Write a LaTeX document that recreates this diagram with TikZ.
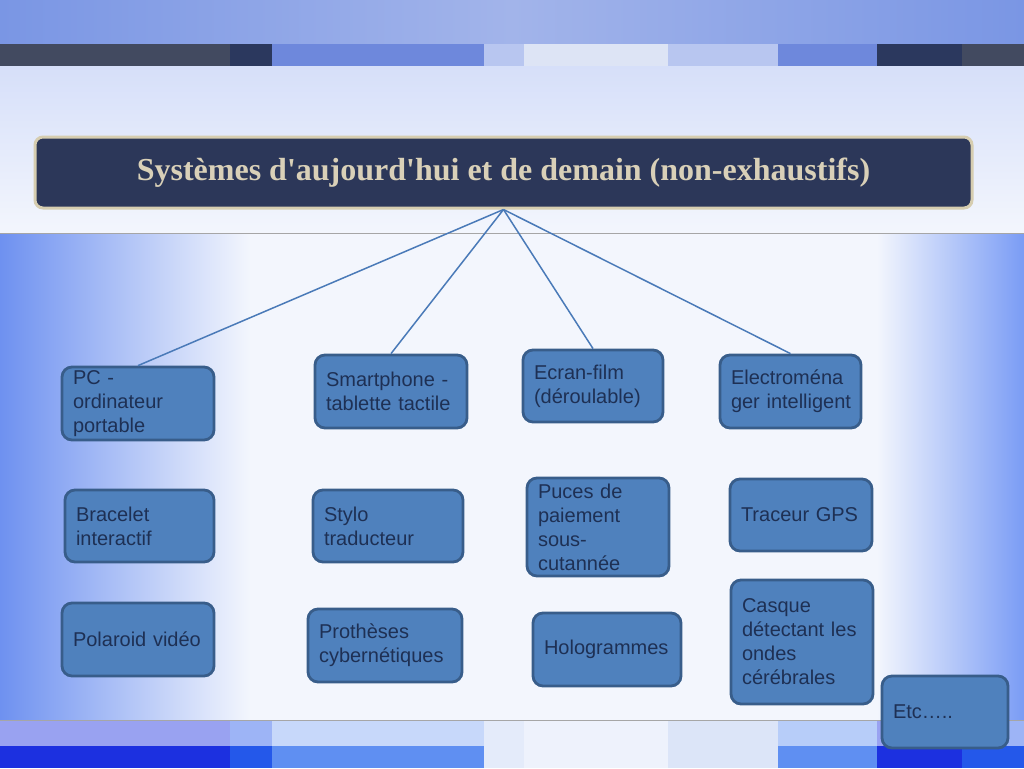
\documentclass[tikz,border=0pt]{standalone}
\usepackage{fontspec}
\setsansfont{Liberation Sans}
\newfontfamily\titlefont{Liberation Serif}
\usepackage{tikz}
\usetikzlibrary{positioning}
\definecolor{barnavy}{RGB}{43,56,94}
\definecolor{bargray}{RGB}{66,74,96}
\definecolor{barblue}{RGB}{110,136,220}
\definecolor{barlight}{RGB}{184,198,240}
\definecolor{barwhite}{RGB}{221,228,245}
\definecolor{bgtop}{RGB}{162,180,234}
\definecolor{bgedge}{RGB}{122,150,228}
\definecolor{bgmid}{RGB}{243,246,253}
\definecolor{bgpale}{RGB}{214,223,249}
\definecolor{bgside}{RGB}{110,145,240}
\definecolor{bgright}{RGB}{122,156,245}
\definecolor{deepblue}{RGB}{28,48,224}
\definecolor{midblue}{RGB}{36,88,234}
\definecolor{softblue}{RGB}{95,143,242}
\definecolor{paleblue}{RGB}{228,235,250}
\definecolor{palewhite}{RGB}{238,242,252}
\definecolor{palemid}{RGB}{220,229,248}
\definecolor{titlefill}{RGB}{44,55,89}
\definecolor{titleline}{RGB}{214,205,176}
\definecolor{titletext}{RGB}{217,208,184}
\definecolor{itemfill}{RGB}{79,129,189}
\definecolor{itemline}{RGB}{56,93,138}
\definecolor{itemtext}{RGB}{30,48,84}
\definecolor{linkblue}{RGB}{74,122,184}
\tikzset{
  titlebox/.style={rounded corners=4pt, draw=titleline, line width=1.5pt, fill=titlefill, text=titletext, font=\titlefont\bfseries\fontsize{16}{19}\selectfont},
  item/.style={rounded corners=5pt, draw=itemline, line width=1.4pt, fill=itemfill, text=itemtext, align=left, inner xsep=5.5pt, inner ysep=0pt, font=\sffamily\fontsize{10}{12}\selectfont},
  link/.style={draw=linkblue, line width=0.75pt},
}
\begin{document}
\begin{tikzpicture}[x=0.5pt, y=-0.5pt]
  \useasboundingbox (0,0) rectangle (1024,768);
  % background
  \fill[bgmid] (0,0) rectangle (1024,768);
  \shade[left color=bgedge, right color=bgedge, middle color=bgtop] (0,0) rectangle (1024,44);
  \shade[top color=bgpale, bottom color=bgmid] (0,66) rectangle (1024,233);
  \shade[left color=bgside, right color=bgmid] (0,233) rectangle (250,720);
  \shade[left color=bgmid, right color=bgright] (877,233) rectangle (1024,720);
  % top bar
  \fill[bargray]  (0,44)   rectangle (230,66);
  \fill[barnavy]  (230,44) rectangle (272,66);
  \fill[barblue]  (272,44) rectangle (484,66);
  \fill[barlight] (484,44) rectangle (524,66);
  \fill[barwhite] (524,44) rectangle (668,66);
  \fill[barlight] (668,44) rectangle (778,66);
  \fill[barblue]  (778,44) rectangle (877,66);
  \fill[barnavy]  (877,44) rectangle (962,66);
  \fill[bargray]  (962,44) rectangle (1024,66);
  % bottom bars
  \fill[deepblue!45!white]  (0,720)   rectangle (230,746);
  \fill[midblue!45!white]   (230,720) rectangle (272,746);
  \fill[softblue!35!white]  (272,720) rectangle (484,746);
  \fill[paleblue]           (484,720) rectangle (524,746);
  \fill[palewhite]          (524,720) rectangle (668,746);
  \fill[palemid]            (668,720) rectangle (778,746);
  \fill[softblue!45!white]  (778,720) rectangle (877,746);
  \fill[deepblue!45!white]  (877,720) rectangle (962,746);
  \fill[midblue!45!white]   (962,720) rectangle (1024,746);
  \fill[deepblue]  (0,746)   rectangle (230,768);
  \fill[midblue]   (230,746) rectangle (272,768);
  \fill[softblue]  (272,746) rectangle (484,768);
  \fill[paleblue]  (484,746) rectangle (524,768);
  \fill[palewhite] (524,746) rectangle (668,768);
  \fill[palemid]   (668,746) rectangle (778,768);
  \fill[softblue]  (778,746) rectangle (877,768);
  \fill[deepblue]  (877,746) rectangle (962,768);
  \fill[midblue]   (962,746) rectangle (1024,768);
  \draw[gray!70, line width=0.4pt] (0,233) -- (1024,233);
  \draw[gray!70, line width=0.4pt] (0,720) -- (1024,720);

  % title
  \node[titlebox, minimum width=468.5pt, minimum height=35.5pt] (title) at (503.5,172.5) {Systèmes d'aujourd'hui et de demain (non-exhaustifs)};

  % first row
  \node[item, text width=65pt, minimum height=36.5pt] (pc) at (138,403.5) {PC -\\ordinateur\\portable};
  \node[item, text width=65pt, minimum height=36.5pt] (phone) at (391,391.5) {Smartphone -\\tablette tactile};
  \node[item, text width=59pt, minimum height=36pt] (film) at (593,386) {Ecran-film\\(déroulable)};
  \node[item, text width=59.5pt, minimum height=36.5pt] (menager) at (790.5,391.5) {Electroména\\\mbox{ger intelligent}};
  % second row
  \node[item, text width=63.5pt, minimum height=36pt] (bracelet) at (139.5,526) {Bracelet\\interactif};
  \node[item, text width=64pt, minimum height=36pt] (stylo) at (388,526) {Stylo\\traducteur};
  \node[item, text width=60pt, minimum height=49pt] (puces) at (598,527) {Puces de\\paiement\\sous-\\cutannée};
  \node[item, text width=60pt, minimum height=36pt] (gps) at (801,515) {Traceur GPS};
  % third row
  \node[item, text width=65pt, minimum height=36.5pt] (polaroid) at (138,639.5) {Polaroid vidéo};
  \node[item, text width=66pt, minimum height=36.5pt] (protheses) at (385,645.5) {Prothèses\\cybernétiques};
  \node[item, text width=63pt, minimum height=36.5pt] (holo) at (607,649.5) {Hologrammes};
  \node[item, text width=60pt, minimum height=62pt] (casque) at (802,642) {Casque\\détectant les\\ondes\\cérébrales};
  \node[item, text width=52pt, minimum height=36pt] (etc) at (945,712) {Etc…..};

  % links
  \draw[link] (title.south) -- (pc.north);
  \draw[link] (title.south) -- (phone.north);
  \draw[link] (title.south) -- (film.north);
  \draw[link] (title.south) -- (menager.north);
\end{tikzpicture}
\end{document}
